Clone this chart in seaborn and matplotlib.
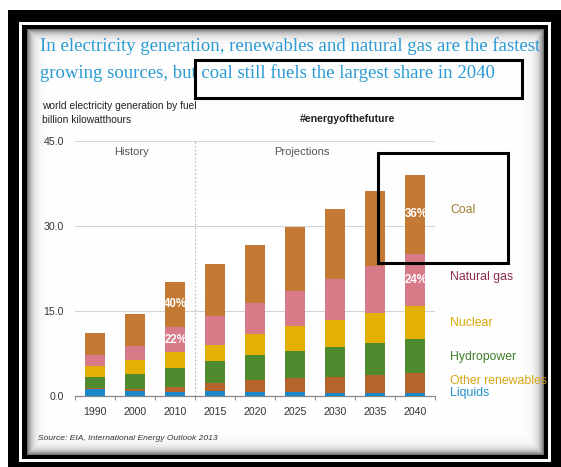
import numpy as np
import pandas as pd
import matplotlib
matplotlib.use("Agg")
import matplotlib.pyplot as plt
from matplotlib.patches import Rectangle
import seaborn as sns

# World electricity generation by fuel (trillion kWh shown as "billion kilowatthours")
years = ["1990", "2000", "2010", "2015", "2020", "2025", "2030", "2035", "2040"]
liquids = [1.2, 0.95, 0.77, 0.83, 0.77, 0.65, 0.6, 0.6, 0.6]
other_renewables = [0.17, 0.35, 0.83, 1.47, 2.0, 2.55, 2.8, 3.1, 3.4]
hydropower = [2.03, 2.55, 3.36, 3.79, 4.5, 4.8, 5.2, 5.7, 6.1]
nuclear = [1.9, 2.55, 2.79, 2.95, 3.6, 4.3, 4.8, 5.2, 5.7]
natural_gas = [1.85, 2.5, 4.35, 5.02, 5.6, 6.3, 7.3, 8.3, 9.3]
coal = [4.05, 5.6, 8.1, 9.3, 10.15, 11.25, 12.3, 13.3, 13.9]

fuel_names = ["Liquids", "Other renewables", "Hydropower", "Nuclear", "Natural gas", "Coal"]
bar_colors = ["#1b87c6", "#b5652c", "#4f8a2f", "#e3b005", "#d97a88", "#c27a35"]
label_colors = ["#1f8fcf", "#d4a516", "#3f7f2a", "#d9a800", "#8c2a4e", "#9a7d2e"]
label_rows = [393, 381, 357, 323, 277, 210]
yticks = [0, 15, 30, 45]
share_years = ["2010", "2040"]

W, H = 561, 467
fig = plt.figure(figsize=(W / 100, H / 100), dpi=100)


def fx(x):
    return x / W


def fy(y):
    return 1 - y / H


# ---- framed background (double black border with inner shadow) ----
bg = np.ones((H, W, 3))
bg[10:, 8:] = 0.0
bg[22:462, 19:551] = 1.0
bg[25:459, 22:548] = 0.0
yy, xx = np.mgrid[29:455, 27:544]
d = np.minimum.reduce([xx - 27, 544 - 1 - xx, yy - 29, 455 - 1 - yy]).astype(float)
shade = 1 - 0.55 * np.exp(-d / 4.5)
bg[29:455, 27:544] = shade[..., None]
fig.figimage(bg, xo=0, yo=0, origin="upper", zorder=0)

# ---- stacked bars ----
df = pd.DataFrame({
    "year": years,
    "Liquids": liquids,
    "Other renewables": other_renewables,
    "Hydropower": hydropower,
    "Nuclear": nuclear,
    "Natural gas": natural_gas,
    "Coal": coal,
})
cum = df[fuel_names].cumsum(axis=1)

ax = fig.add_axes([fx(75), fy(396), fx(435) - fx(75), fy(141) - fy(396)])
ax.set_facecolor("none")
ax.set_zorder(2)

for name, color in reversed(list(zip(fuel_names, bar_colors))):
    sns.barplot(x=df["year"], y=cum[name], order=years, color=color,
                width=0.52, errorbar=None, ax=ax, zorder=3,
                saturation=1, linewidth=0)

ax.set_ylim(0, 45)
ax.set_xlim(-0.5, len(years) - 0.5)
ax.set_yticks(yticks)
ax.set_yticklabels([f"{v:.1f}" for v in yticks], fontsize=7.6, color="#333333",
                   family="Liberation Sans")
ax.set_xticks(range(len(years)))
ax.set_xticklabels(years, fontsize=7.6, color="#333333", family="Liberation Sans")
ax.set_xticks(np.arange(-0.5, len(years)), minor=True)
ax.tick_params(axis="x", which="major", length=0, pad=8)
ax.tick_params(axis="x", which="minor", length=3, color="#777777", direction="out")
ax.tick_params(axis="y", length=0, pad=8)
ax.set_xlabel("")
ax.set_ylabel("")
for s in ["top", "right", "left"]:
    ax.spines[s].set_visible(False)
ax.spines["bottom"].set_color("#888888")
ax.spines["bottom"].set_linewidth(0.9)
for v in yticks[1:]:
    ax.axhline(v, color="#d4d4d4", lw=0.8, zorder=1)
ax.axvline(2.5, ymin=0, ymax=1, color="#b8b8b8", lw=0.8, ls=(0, (1.5, 2)), zorder=1)

ax.text(0.92, 43.0, "History", ha="center", va="center", fontsize=8,
        color="#555555", family="Liberation Sans")
ax.text(5.16, 43.0, "Projections", ha="center", va="center", fontsize=8,
        color="#555555", family="Liberation Sans")

# share labels for coal and natural gas
for yr in share_years:
    i = years.index(yr)
    total = cum.loc[i, "Coal"]
    for name in ["Coal", "Natural gas"]:
        top = cum.loc[i, name]
        val = df.loc[i, name]
        ax.text(i + 0.02, top - val / 2, f"{round(100 * val / total)}%",
                ha="center", va="center", fontsize=8.3, fontweight="bold",
                color="white", family="Liberation Sans", zorder=5)

# ---- fuel labels on the right ----
for name, c, y in zip(fuel_names, label_colors, label_rows):
    fig.text(fx(450), fy(y), name, ha="left", va="center", fontsize=8.8,
             color=c, family="Liberation Sans")

# ---- headline and captions ----
title_color = "#2b9bd3"
fig.text(fx(40), fy(46), "In electricity generation, renewables and natural gas are the fastest",
         ha="left", va="center", fontsize=13.5, color=title_color, family="Liberation Serif")
fig.text(fx(40), fy(73), "growing sources, but coal still fuels the largest share in 2040",
         ha="left", va="center", fontsize=13.5, color=title_color, family="Liberation Serif")
fig.text(fx(42), fy(106), "world electricity generation by fuel", ha="left", va="center",
         fontsize=7.4, color="#222222", family="Liberation Sans")
fig.text(fx(42), fy(120), "billion kilowatthours", ha="left", va="center",
         fontsize=7.4, color="#222222", family="Liberation Sans")
fig.text(fx(300), fy(119), "#energyofthefuture", ha="left", va="center",
         fontsize=7.6, fontweight="bold", color="#222222", family="Liberation Sans")
fig.text(fx(38), fy(439), "Source: EIA, International Energy Outlook 2013", ha="left",
         va="center", fontsize=6.1, style="italic", color="#333333", family="Liberation Sans")

# ---- highlight boxes ----
for (x0, y0, x1, y1) in [(195, 60, 522, 98), (378, 153, 508, 263)]:
    fig.add_artist(Rectangle((fx(x0), fy(y1)), fx(x1) - fx(x0), fy(y0) - fy(y1),
                             transform=fig.transFigure, fill=False, ec="black",
                             lw=2.2, zorder=10))

fig.savefig("out.png", dpi=100)
